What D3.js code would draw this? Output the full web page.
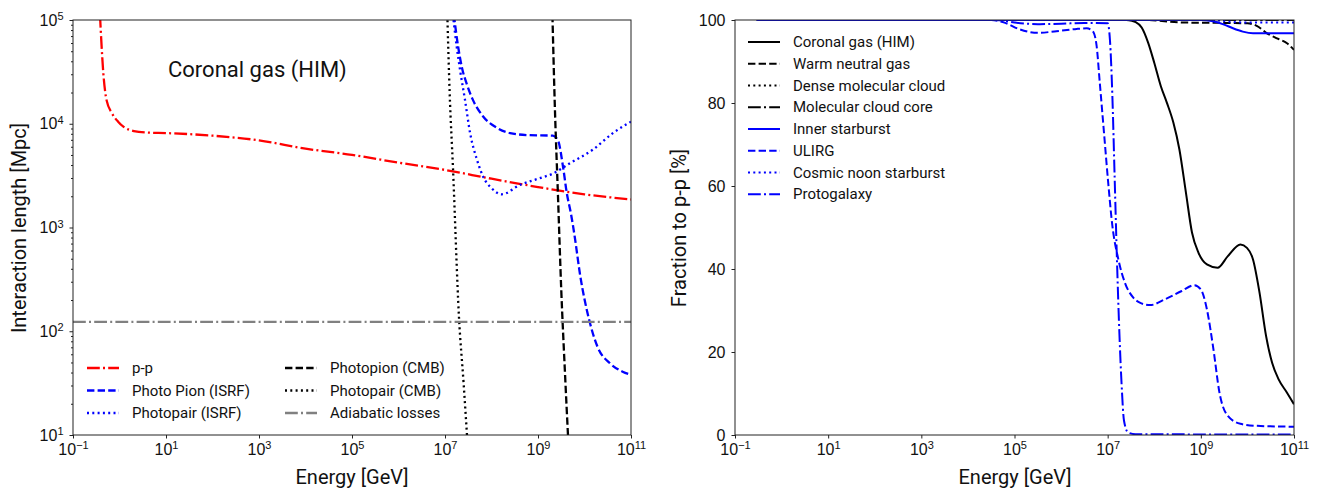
<!DOCTYPE html>
<html>
<head>
<meta charset="utf-8">
<script src="https://cdn.jsdelivr.net/npm/d3@7"></script>
<style>
body { margin: 0; background: #fff; }
svg { display: block; font-family: Roboto, "DejaVu Sans", sans-serif; }
</style>
</head>
<body>
<script>
"use strict"

// energies are log10(E / GeV), lengths are log10(L / Mpc), fractions in %

// left panel : interaction lengths
const ppLogE = [-0.42, -0.35, -0.28, -0.16, -0.03, 0.09, 0.31, 0.6, 1.0, 2.0, 3.0, 4.0, 5.0, 6.0, 7.0, 8.0, 9.0, 10.0, 11.0];
const ppLogL = [5.05, 4.5, 4.23, 4.1, 4.02, 3.97, 3.93, 3.915, 3.91, 3.885, 3.84, 3.76, 3.70, 3.625, 3.555, 3.47, 3.39, 3.32, 3.27];

const pionIsrfLogE = [7.19, 7.28, 7.36, 7.47, 7.60, 7.82, 8.12, 8.40, 8.8, 9.32, 9.43, 9.54, 9.62, 9.71, 9.78, 9.91, 10.1, 10.28, 10.55, 10.82, 11.0];
const pionIsrfLogL = [5.05, 4.75, 4.55, 4.38, 4.23, 4.07, 3.96, 3.91, 3.89, 3.885, 3.84, 3.58, 3.33, 3.13, 2.94, 2.53, 2.11, 1.85, 1.69, 1.61, 1.58];

const pairIsrfLogE = [7.17, 7.25, 7.33, 7.43, 7.54, 7.69, 7.82, 8.0, 8.22, 8.61, 9.0, 9.32, 9.69, 10.18, 10.61, 11.0];
const pairIsrfLogL = [5.05, 4.75, 4.5, 4.23, 3.91, 3.65, 3.49, 3.38, 3.32, 3.41, 3.47, 3.52, 3.62, 3.75, 3.91, 4.02];

const pionCmbLogE = [9.31, 9.36, 9.43, 9.50, 9.58, 9.65];
const pionCmbLogL = [5.05, 4.2, 3.3, 2.4, 1.6, 0.95];

const pairCmbLogE = [7.05, 7.10, 7.17, 7.30, 7.40, 7.48];
const pairCmbLogL = [5.05, 4.3, 3.59, 2.14, 1.5, 0.95];

const adiabaticLogE = [-1, 11];
const adiabaticLogL = [2.09, 2.09];

// right panel : fraction going to p-p
const coronalLogE = [-0.53, 7.4, 7.52, 7.6, 7.73, 7.87, 8.0, 8.14, 8.27, 8.41, 8.54, 8.68, 8.81, 8.95, 9.13, 9.36, 9.58, 9.85, 9.99, 10.12, 10.26, 10.40, 10.53, 10.67, 10.85, 11.0];
const coronalFrac = [100, 100, 99.8, 99.5, 98.2, 94.5, 89.7, 84.1, 80.1, 75.3, 68.8, 58.4, 48.8, 43.9, 41.1, 40.3, 43.1, 45.9, 45.1, 42.3, 34.3, 23.9, 17.4, 13.4, 10.2, 7.4];

const warmLogE = [-0.53, 7.8, 8.6, 9.5, 10.0, 10.2, 10.42, 10.65, 10.85, 11.0];
const warmFrac = [100, 100, 99.4, 99.3, 99.2, 98.6, 96.8, 95.5, 94.4, 92.8];

const denseLogE = [-0.53, 11.0];
const denseFrac = [100, 100];

const coreLogE = [-0.53, 11.0];
const coreFrac = [100, 100];

const innerLogE = [-0.53, 9.0, 9.26, 9.5, 9.69, 9.9, 10.12, 11.0];
const innerFrac = [100, 100, 99.7, 98.9, 98.0, 97.2, 96.8, 96.8];

const ulirgLogE = [-0.53, 4.5, 4.8, 5.1, 5.5, 5.9, 6.3, 6.55, 6.68, 6.76, 6.83, 6.92, 7.01, 7.10, 7.23, 7.37, 7.55, 7.69, 7.91, 8.23, 8.59, 8.86, 9.0, 9.13, 9.27, 9.40, 9.58, 9.85, 10.21, 11.0];
const ulirgFrac = [100, 100, 99.3, 97.8, 96.9, 97.3, 97.8, 98.0, 97.3, 94, 85, 73, 61, 50.5, 42.3, 36.7, 33.1, 31.9, 31.3, 32.7, 34.7, 36.1, 35.1, 30.3, 20.7, 10.2, 4.6, 2.7, 2.2, 2.0];

const noonLogE = [-0.53, 9.3, 9.6, 10.0, 11.0];
const noonFrac = [100, 100, 99.6, 99.4, 99.4];

const protoLogE = [-0.53, 4.6, 5.0, 5.5, 6.0, 6.5, 7.0, 7.05, 7.1, 7.15, 7.2, 7.25, 7.3, 7.35, 7.44, 7.6, 11.0];
const protoFrac = [100, 100, 99.4, 99.0, 99.1, 99.3, 99.2, 95, 82, 62, 42, 25, 12, 3.5, 0.6, 0.2, 0.1];

// ticks
const xTickExp = [-1, 1, 3, 5, 7, 9, 11];
const yTickExpL = [1, 2, 3, 4, 5];
const yTicksR = [0, 20, 40, 60, 80, 100];

const W = 1319, H = 491;
const dash = { solid: null, dashed: '7.4,3.2', dotted: '2,3.3', dashdot: '12.8,3.2,2,3.2' };

const svg = d3.select('body')
	.append('svg')
	.attr('width', W)
	.attr('height', H);

const xL = d3.scaleLog().domain([1e-1, 1e11]).range([73, 631]);
const yL = d3.scaleLog().domain([1e1, 1e5]).range([435, 20]);
const xR = d3.scaleLog().domain([1e-1, 1e11]).range([735, 1294]);
const yR = d3.scaleLinear().domain([0, 100]).range([435, 20]);

function powLabels(g, exps) {
	g.selectAll('.tick text').each(function (d, i) {
		const t = d3.select(this);
		t.text(null);
		t.append('tspan').text('10');
		t.append('tspan')
			.attr('dy', '-0.5em')
			.attr('font-size', '11px')
			.text(String(exps[i]).replace('-', '\u2212'));
	});
}

function styleAxis(g) {
	g.select('.domain').remove();
	g.selectAll('.tick line').attr('stroke', '#222');
	g.selectAll('.tick text').attr('fill', '#111').attr('font-size', '16px');
}

function clip(id, x, y) {
	svg.append('clipPath').attr('id', id)
		.append('rect')
		.attr('x', x.range()[0]).attr('y', y.range()[1])
		.attr('width', x.range()[1] - x.range()[0])
		.attr('height', y.range()[0] - y.range()[1]);
}

function drawLine(x, y, xs, ys, color, style, isLogY, clipId, lw) {
	const pts = xs.map((e, i) => [10 ** e, isLogY ? 10 ** ys[i] : ys[i]]);
	const line = d3.line()
		.x(d => x(Math.max(d[0], 1e-1)))
		.y(d => y(d[1]))
		.curve(d3.curveMonotoneX);
	svg.append('path')
		.datum(pts)
		.attr('clip-path', 'url(#' + clipId + ')')
		.attr('d', line)
		.attr('fill', 'none')
		.attr('stroke', color)
		.attr('stroke-width', lw)
		.attr('stroke-dasharray', dash[style]);
}

function frame(x, y) {
	svg.append('rect')
		.attr('x', x.range()[0]).attr('y', y.range()[1])
		.attr('width', x.range()[1] - x.range()[0])
		.attr('height', y.range()[0] - y.range()[1])
		.attr('fill', 'none')
		.attr('stroke', '#222')
		.attr('stroke-width', 1);
}

function legendItem(x0, yMid, label, color, style, lw) {
	svg.append('line')
		.attr('x1', x0).attr('x2', x0 + 32)
		.attr('y1', yMid).attr('y2', yMid)
		.attr('stroke', color)
		.attr('stroke-width', lw)
		.attr('stroke-dasharray', dash[style]);
	svg.append('text')
		.attr('x', x0 + 45)
		.attr('y', yMid + 5)
		.attr('font-size', '15px')
		.attr('fill', '#111')
		.text(label);
}

// ---------- left panel ----------
clip('clipL', xL, yL);

const leftSeries = [
	[ppLogE, ppLogL, '#ff0000', 'dashdot', 'p-p'],
	[pionIsrfLogE, pionIsrfLogL, '#0000ff', 'dashed', 'Photo Pion (ISRF)'],
	[pairIsrfLogE, pairIsrfLogL, '#0000ff', 'dotted', 'Photopair (ISRF)'],
	[pionCmbLogE, pionCmbLogL, '#000000', 'dashed', 'Photopion (CMB)'],
	[pairCmbLogE, pairCmbLogL, '#000000', 'dotted', 'Photopair (CMB)'],
	[adiabaticLogE, adiabaticLogL, '#808080', 'dashdot', 'Adiabatic losses']
];
leftSeries.forEach(s => drawLine(xL, yL, s[0], s[1], s[2], s[3], true, 'clipL', 2.3));

const minorL = [];
[1, 2, 3, 4].forEach(k => d3.range(2, 10).forEach(m => minorL.push(m * 10 ** k)));

svg.append('g')
	.attr('transform', 'translate(73,0)')
	.call(d3.axisLeft(yL).tickValues(minorL).tickSize(2).tickFormat(''))
	.call(styleAxis);

svg.append('g')
	.attr('transform', 'translate(73,0)')
	.call(d3.axisLeft(yL).tickValues(yTickExpL.map(k => 10 ** k)).tickSize(3.5).tickPadding(6).tickFormat(''))
	.call(styleAxis)
	.call(g => powLabels(g, yTickExpL));

svg.append('g')
	.attr('transform', 'translate(0,435)')
	.call(d3.axisBottom(xL).tickValues(xTickExp.map(k => 10 ** k)).tickSize(3.5).tickPadding(5).tickFormat(''))
	.call(styleAxis)
	.call(g => powLabels(g, xTickExp));

frame(xL, yL);

svg.append('text')
	.attr('x', 168).attr('y', 77)
	.attr('font-size', '22px')
	.attr('fill', '#111')
	.text('Coronal gas (HIM)');

svg.append('text')
	.attr('x', 352).attr('y', 484)
	.attr('text-anchor', 'middle')
	.attr('font-size', '20px')
	.attr('fill', '#111')
	.text('Energy [GeV]');

svg.append('text')
	.attr('transform', 'translate(26,228) rotate(-90)')
	.attr('text-anchor', 'middle')
	.attr('font-size', '20px')
	.attr('fill', '#111')
	.text('Interaction length [Mpc]');

leftSeries.forEach((s, i) => {
	const col = Math.floor(i / 3), row = i % 3;
	legendItem(col === 0 ? 87 : 285, 368 + row * 22.5, s[4], s[2], s[3], 2.3);
});

// ---------- right panel ----------
clip('clipR', xR, yR);

const rightSeries = [
	[coronalLogE, coronalFrac, '#000000', 'solid', 'Coronal gas (HIM)'],
	[warmLogE, warmFrac, '#000000', 'dashed', 'Warm neutral gas'],
	[denseLogE, denseFrac, '#000000', 'dotted', 'Dense molecular cloud'],
	[coreLogE, coreFrac, '#000000', 'dashdot', 'Molecular cloud core'],
	[innerLogE, innerFrac, '#0000ff', 'solid', 'Inner starburst'],
	[ulirgLogE, ulirgFrac, '#0000ff', 'dashed', 'ULIRG'],
	[noonLogE, noonFrac, '#0000ff', 'dotted', 'Cosmic noon starburst'],
	[protoLogE, protoFrac, '#0000ff', 'dashdot', 'Protogalaxy']
];
rightSeries.forEach(s => drawLine(xR, yR, s[0], s[1], s[2], s[3], false, 'clipR', 2));

svg.append('g')
	.attr('transform', 'translate(735,0)')
	.call(d3.axisLeft(yR).tickValues(yTicksR).tickSize(3.5).tickPadding(6))
	.call(styleAxis);

svg.append('g')
	.attr('transform', 'translate(0,435)')
	.call(d3.axisBottom(xR).tickValues(xTickExp.map(k => 10 ** k)).tickSize(3.5).tickPadding(5).tickFormat(''))
	.call(styleAxis)
	.call(g => powLabels(g, xTickExp));

frame(xR, yR);

svg.append('text')
	.attr('x', 1015).attr('y', 484)
	.attr('text-anchor', 'middle')
	.attr('font-size', '20px')
	.attr('fill', '#111')
	.text('Energy [GeV]');

svg.append('text')
	.attr('transform', 'translate(686,228) rotate(-90)')
	.attr('text-anchor', 'middle')
	.attr('font-size', '20px')
	.attr('fill', '#111')
	.text('Fraction to p-p [%]');

rightSeries.forEach((s, i) => legendItem(748, 42 + i * 21.75, s[4], s[2], s[3], 2));
</script>
</body>
</html>
